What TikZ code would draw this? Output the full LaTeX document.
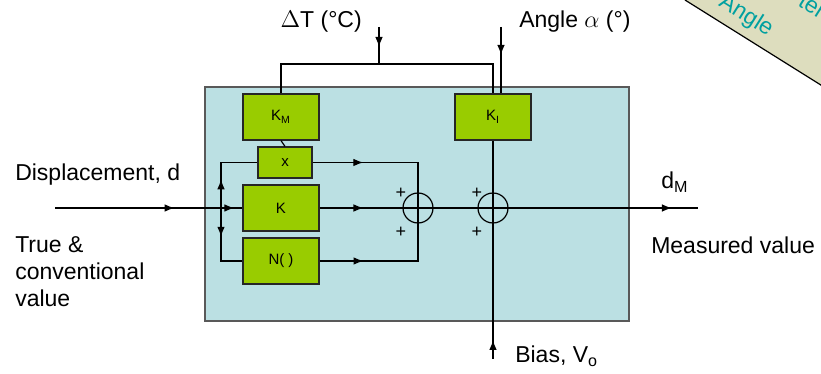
\documentclass[tikz,border=0pt]{standalone}
\usepackage{fontspec}
\setmainfont{Liberation Sans}
\usetikzlibrary{arrows.meta, decorations.markings, calc}
\definecolor{panelBlue}{RGB}{187,224,227}
\definecolor{gainGreen}{RGB}{153,204,0}
\definecolor{noteBeige}{RGB}{221,221,190}
\definecolor{noteTeal}{RGB}{0,160,160}

\tikzset{
  gain/.style={draw=black!85, fill=gainGreen, minimum width=38pt, minimum height=23pt,
    inner sep=0pt, font=\fontsize{7.5}{8}\selectfont},
  sumj/.style={draw, circle, minimum size=15pt, inner sep=0pt},
  lbl/.style={font=\fontsize{11.5}{13.5}\selectfont},
  arr/.style={postaction={decorate}, decoration={markings,
    mark=at position #1 with {\arrow{Latex[length=5pt,width=3.8pt]}}}},
  arrtwo/.style 2 args={postaction={decorate}, decoration={markings,
    mark=at position #1 with {\arrow{Latex[length=5pt,width=3.8pt]}},
    mark=at position #2 with {\arrow{Latex[length=5pt,width=3.8pt]}}}}
}

\begin{document}
\begin{tikzpicture}[x=0.5pt, y=-0.5pt, line width=0.6pt]
  \useasboundingbox (0,0) rectangle (821,374);

  % note in the corner
  \begin{scope}
    \clip (0,0) rectangle (821,374);
    \fill[noteBeige] (685,0) -- (840,0) -- (840,97) -- cycle;
    \draw (685,0) -- (840,97);
    \node[lbl, rotate=-32.2, text=noteTeal] (noteA) at (746,16) {Angle};
    \node[lbl, rotate=-32.2, text=noteTeal, anchor=west] (noteB) at (795,-5) {ter};
  \end{scope}

  % system
  \filldraw[fill=panelBlue, draw=black!65] (205,87) rectangle (629,321);

  \node[gain] (km) at (281,117) {K\textsubscript{M}};
  \node[gain, minimum width=27pt, minimum height=15.5pt] (mul) at (285,162.5) {x};
  \node[gain] (k) at (281,208) {K};
  \node[gain] (nl) at (281,261) {N( )};
  \node[gain] (ki) at (493,117) {K\textsubscript{I}};
  \node[sumj] (s1) at (418,208) {};
  \node[sumj] (s2) at (493,208) {};

  \coordinate (din) at (55,208);
  \coordinate (dout) at (698,208);
  \coordinate (split) at (221,208);
  \coordinate (tee) at (379,64);
  \coordinate (dT) at (379,27);
  \coordinate (alpha) at (501,27);
  \coordinate (vo) at (493,359);

  % signal paths
  \draw[arrtwo={0.638}{0.957}] (din) -- (k.west);
  \draw[arrtwo={0.116}{0.931}] (k.east) -- (dout);
  \draw[arr=0.35] (split) |- (mul.west);
  \draw[arr=0.387] (split) |- (nl.west);
  \draw[arr=0.336] (mul.east) -| (s1.center);
  \draw[arr=0.29] (nl.east) -| (s1.center);
  \draw (km.south) -- (mul.north);
  \draw (km.north) |- (tee) -| (ki.north);
  \draw[arr=0.54] (dT) -- (tee);
  \draw[arr=0.42] (alpha) -- (alpha |- ki.north);
  \draw[arr=0.087] (vo) -- (ki.south);

  \foreach \px in {401,477}
    \foreach \py in {193,232}
      \node[font=\fontsize{9}{9}\selectfont] at (\px,\py) {+};

  % labels
  \node[lbl, anchor=east] (dTlbl) at (369,22) {$\Delta$T (°C)};
  \node[lbl, anchor=west] (alphalbl) at (512,22) {Angle $\alpha$ (°)};
  \node[lbl, anchor=west] (disp) at (8,175) {Displacement, d};
  \node[lbl, anchor=north west, align=left] (truev) at (8,229) {True \&\\conventional\\value};
  \node[lbl] (dM) at (675,182) {d\textsubscript{M}};
  \node[lbl, anchor=west] (meas) at (644,245) {Measured value};
  \node[lbl, anchor=west] (bias) at (508,356) {Bias, V\textsubscript{o}};
\end{tikzpicture}
\end{document}
